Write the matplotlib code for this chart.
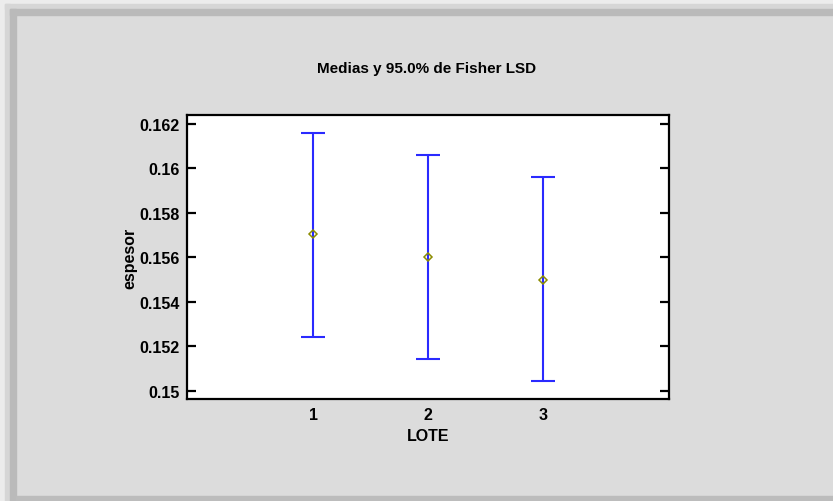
import numpy as np
import matplotlib.pyplot as plt
from matplotlib.patches import Rectangle

plt.rcParams['font.family'] = ['Liberation Sans', 'DejaVu Sans']

# datos
lotes = [1, 2, 3]
medias = [0.15703, 0.15601, 0.15498]
inferior = [0.15243, 0.15141, 0.15044]
superior = [0.16158, 0.16062, 0.15961]
yticks = [0.15, 0.152, 0.154, 0.156, 0.158, 0.16, 0.162]
ytick_labels = ['0.15', '0.152', '0.154', '0.156', '0.158', '0.16', '0.162']

fig = plt.figure(figsize=(8.33, 5.02), dpi=100, facecolor='#dcdcdc')

# marco con sombra
W, H = 833, 502
def band(x, y, w, h, c):
    fig.patches.append(Rectangle((x / W, 1 - (y + h) / H), w / W, h / H,
                                 transform=fig.transFigure, color=c, zorder=0))
band(0, 0, W, 5, '#ececec')
band(0, 0, 5, H, '#ececec')
band(5, 5, W, 5, '#d6d6d6')
band(5, 5, 5, H, '#d6d6d6')
band(10, 10, W, 6, '#bababa')
band(10, 10, 6, H, '#bababa')
band(16, 497, W, 5, '#bcbcbc')

ax = fig.add_axes([187 / W, 1 - 400 / H, (669 - 187) / W, (400 - 116) / H])
ax.set_facecolor('white')

medias = np.array(medias)
err = [medias - np.array(inferior), np.array(superior) - medias]
ax.errorbar(lotes, medias, yerr=err, fmt='none', ecolor='#2a2aff',
            elinewidth=1.5, capsize=8.3, capthick=1.5, zorder=2)
ax.plot(lotes, medias, linestyle='none', marker='D', markersize=4.5,
        markerfacecolor='none', markeredgecolor='#8c8c00',
        markeredgewidth=1.1, zorder=3)

ax.set_xlim(-0.1, 4.1)
ax.set_ylim(0.14963, 0.16240)
ax.set_xticks(lotes)
ax.set_xticklabels([str(l) for l in lotes])
ax.set_yticks(yticks)
ax.set_yticklabels(ytick_labels)

for s in ax.spines.values():
    s.set_linewidth(1.6)
ax.tick_params(axis='y', direction='in', length=6.5, width=1.6, right=True,
               labelsize=11.5, pad=5.5)
ax.tick_params(axis='x', length=0, labelsize=11.5, pad=6)
for t in ax.get_xticklabels() + ax.get_yticklabels():
    t.set_fontweight('bold')

ax.set_xlabel('LOTE', fontsize=11.5, fontweight='bold', labelpad=4)
ax.set_ylabel('espesor', fontsize=11.5, fontweight='bold', labelpad=1.5)
fig.text(427 / W, 1 - 69 / H, 'Medias y 95.0% de Fisher LSD', ha='center',
         va='center', fontsize=11, fontweight='bold')

fig.savefig('out.png', dpi=100, facecolor=fig.get_facecolor())
